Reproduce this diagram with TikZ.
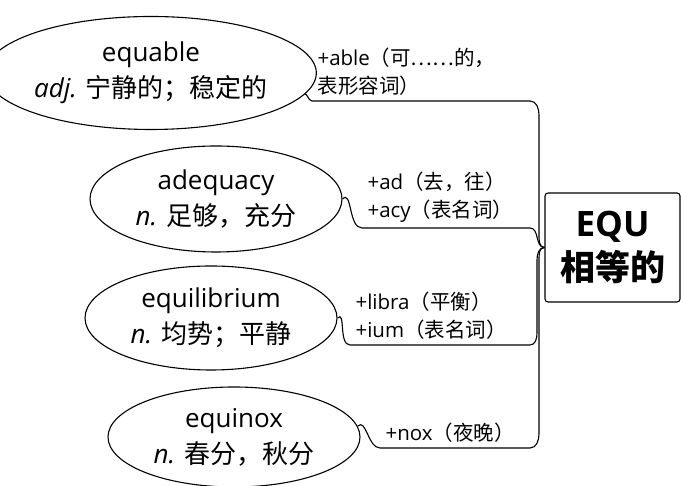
\documentclass[tikz,border=0pt]{standalone}
\usepackage{fontspec}
\setmainfont{Open Sans}
\newfontfamily\cjk{Noto Sans CJK SC}
\usetikzlibrary{shapes.geometric}

\begin{document}
\begin{tikzpicture}[x=1pt,y=1pt,line width=1.1pt,
        word/.style={draw,ellipse,inner sep=0pt,minimum width=252pt,align=center,font=\fontsize{26}{36}\selectfont},
        sfx/.style={anchor=south west,inner sep=5pt,align=left,font=\fontsize{20.5}{28}\selectfont},
        root/.style={draw,rounded corners=3pt,minimum width=135pt,minimum height=109pt,align=center,font=\bfseries\fontsize{35}{44}\selectfont}]
    \useasboundingbox (0,0) rectangle (681,486);

    \node[root] (equ) at (612.5,238.5) {EQU\\{\cjk 相等的}};
    \coordinate (bus) at (530,238);

    % words
    \node[word,minimum width=293pt,minimum height=113pt] (equable) at (151,413) {equable\\{\itshape adj.} {\cjk 宁静的；稳定的}};
    \node[word,minimum height=106pt] (adequacy) at (216,287) {adequacy\\{\itshape n.} {\cjk 足够，充分}};
    \node[word,minimum height=104pt] (equilibrium) at (211,168) {equilibrium\\{\itshape n.} {\cjk 均势；平静}};
    \node[word,minimum height=100pt] (equinox) at (234,49) {equinox\\{\itshape n.} {\cjk 春分，秋分}};

    % parts
    \node[sfx] (able) at (312,385) {+able{\cjk （可……的，}\\{\cjk 表形容词）}};
    \node[sfx] (ad) at (362,258) {+ad{\cjk （去，往）}\\+acy{\cjk （表名词）}};
    \node[sfx] (libra) at (350,141) {+libra{\cjk （平衡）}\\+ium{\cjk （表名词）}};
    \node[sfx] (nox) at (380,38) {+nox{\cjk （夜晚）}};

    % branches
    \draw (equable.-8) to[out=60,in=180] (able.south west) -- (able.south west -| bus)
        to[out=0,in=90] ++(9,-14) -- ([xshift=9pt,yshift=14pt]bus) to[out=-90,in=180] (equ.west);
    \draw (adequacy.east) to[out=45,in=180] (ad.south west) -- (ad.south west -| bus)
        to[out=0,in=180] (equ.west);
    \draw (equilibrium.east) to[out=45,in=180] (libra.south west) -- (libra.south west -| bus)
        to[out=0,in=-90] ++(7,12) -- ([xshift=7pt,yshift=-12pt]bus) to[out=90,in=180] (equ.west);
    \draw (equinox.5) to[out=45,in=180] (nox.south west) -- (nox.south west -| bus)
        to[out=0,in=-90] ++(9,14) -- ([xshift=9pt,yshift=-14pt]bus) to[out=90,in=180] (equ.west);
\end{tikzpicture}
\end{document}
